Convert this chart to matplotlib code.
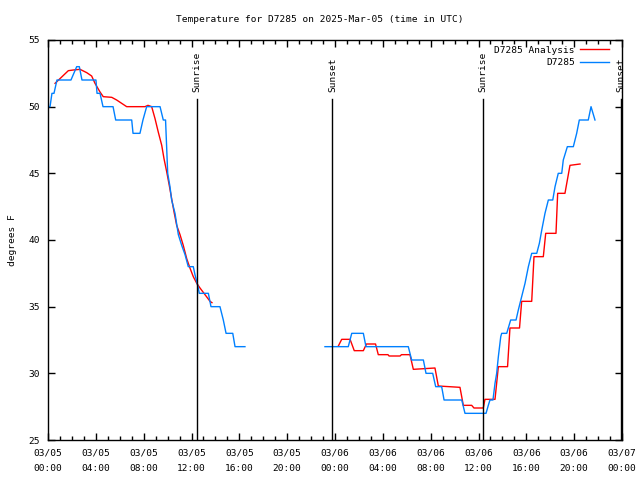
import numpy as np
import pandas as pd
import matplotlib
matplotlib.use("Agg")
import matplotlib.pyplot as plt
import matplotlib.dates as mdates

START = pd.Timestamp("2025-03-05 00:00")

# D7285 observations: hours since 03/05 00:00 UTC, temperature (F); NaN = gap
obs_hours = [0.00, 0.17, 0.33, 0.50, 0.75, 1.92, 2.40, 2.62, 2.84, 4.01, 4.10, 4.35, 4.60,
             5.44, 5.66, 7.00, 7.11, 7.69, 7.94, 8.25, 9.37, 9.64, 9.83, 10.01, 10.20, 10.34,
             10.62, 10.90, 11.18, 11.46, 11.73, 12.15, 12.29, 12.57, 12.65, 13.41, 13.63,
             14.38, 14.66, 14.89, 15.45, 15.64, 16.47, 20.00,
             23.16, 25.11, 25.40, 26.37, 26.59, 30.13, 30.41, 31.39, 31.61, 32.17, 32.42,
             32.92, 33.12, 34.60, 34.87, 36.63, 36.82, 36.96, 37.21, 37.38, 37.52, 37.66,
             37.86, 37.94, 38.36, 38.69, 39.14, 39.33, 39.61, 39.89, 40.17, 40.45, 40.87,
             41.09, 41.29, 41.56, 41.84, 42.21, 42.40, 42.67, 42.96, 43.09, 43.43, 43.93,
             44.21, 44.43, 45.18, 45.41, 45.74]
obs_temps = [50, 50, 51, 51, 52, 52, 53, 53, 52, 52, 51, 51, 50,
             50, 49, 49, 48, 48, 49, 50, 50, 49, 49, 45, 44, 43,
             42, 40.4, 39.6, 38.9, 38, 38, 37.4, 36.4, 36, 36, 35,
             35, 34, 33, 33, 32, 32, np.nan,
             32, 32, 33, 33, 32, 32, 31, 31, 30, 30, 29,
             29, 28, 28, 27, 27, 27.6, 28, 28, 29.25, 30, 31.25,
             32.75, 33, 33, 34, 34, 34.75, 35.75, 36.75, 38, 39, 39,
             39.75, 40.75, 42, 43, 43, 44, 45, 45, 46, 47, 47,
             48, 49, 49, 50, 49]

# D7285 Analysis
ana_hours = [0.59, 1.00, 1.70, 2.12, 2.68, 3.24, 3.65, 3.93, 4.35, 4.62, 5.33, 5.74, 6.16,
             6.58, 8.11, 8.36, 8.67, 8.95, 9.22, 9.51, 9.70, 9.93, 10.14, 10.34, 10.54,
             10.76, 11.04, 11.31, 11.60, 11.87, 12.15, 12.44, 12.71, 13.13, 13.55, 13.71, 20.0,
             24.28, 24.56, 25.26, 25.61, 26.37, 26.63, 27.39, 27.62, 28.43, 28.52, 29.44,
             29.56, 30.27, 30.55, 32.36, 32.64, 34.45, 34.73, 35.43, 35.62, 36.40, 36.54,
             37.38, 37.66, 38.43, 38.63, 39.43, 39.61, 40.45, 40.64, 41.42, 41.62, 42.48,
             42.62, 43.23, 43.43, 43.65, 44.49]
ana_temps = [51.75, 52.1, 52.7, 52.75, 52.8, 52.55, 52.3, 51.75, 51.1, 50.75, 50.7, 50.5, 50.25,
             50.0, 50.0, 50.1, 50.0, 49.1, 48.1, 47.1, 46.1, 45.1, 44.1, 43.1, 42.1,
             41.1, 40.4, 39.6, 38.6, 37.9, 37.25, 36.75, 36.4, 35.9, 35.4, 35.3, np.nan,
             32.05, 32.55, 32.55, 31.7, 31.7, 32.2, 32.2, 31.4, 31.4, 31.3, 31.3,
             31.4, 31.4, 30.3, 30.4, 29.05, 28.95, 27.6, 27.6, 27.4, 27.4, 28.05,
             28.05, 30.5, 30.5, 33.4, 33.4, 35.4, 35.4, 38.75, 38.75, 40.5, 40.5,
             43.5, 43.5, 44.5, 45.6, 45.7]

sun_events = ["2025-03-05 12:26", "2025-03-05 23:47", "2025-03-06 12:24", "2025-03-06 23:55"]
sun_labels = ["Sunrise", "Sunset", "Sunrise", "Sunset"]

FONT = "DejaVu Sans Mono"
FS = 6.8
RED = "#ff0000"
BLUE = "#0080ff"

obs_t = [START + pd.Timedelta(hours=h) for h in obs_hours]
ana_t = [START + pd.Timedelta(hours=h) for h in ana_hours]

fig = plt.figure(figsize=(6.4, 4.8), dpi=100)
ax = fig.add_axes([48/640, 40/480, 574/640, 400/480])

ax.plot(ana_t, ana_temps, color=RED, lw=1.0, label="D7285 Analysis")
ax.plot(obs_t, obs_temps, color=BLUE, lw=1.0, label="D7285")

ax.set_xlim(START, START + pd.Timedelta(hours=48))
ax.set_ylim(25, 55)

for ev, lab in zip(sun_events, sun_labels):
    t = pd.Timestamp(ev)
    ax.plot([t, t], [25, 50.6], color="black", lw=1.0)
    ax.text(t, 51.1, lab, rotation=90, ha="center", va="bottom",
            fontsize=FS, family=FONT)

ax.xaxis.set_major_locator(mdates.HourLocator(byhour=[0, 4, 8, 12, 16, 20]))
ax.xaxis.set_minor_locator(mdates.HourLocator())
ax.xaxis.set_major_formatter(mdates.DateFormatter("%m/%d\n%H:%M"))
ax.set_yticks(np.arange(25, 56, 5))

ax.tick_params(axis="both", which="both", direction="in", top=True, right=True,
               labelsize=FS, width=1.0)
ax.tick_params(which="major", length=5, pad=6)
ax.tick_params(which="minor", length=3)
for lab in ax.get_xticklabels():
    lab.set_family(FONT)
    lab.set_linespacing(1.9)
for lab in ax.get_yticklabels():
    lab.set_family(FONT)
for s in ax.spines.values():
    s.set_linewidth(1.0)

ax.set_ylabel("degrees F", fontsize=FS, family=FONT, labelpad=8)
fig.text(0.5, 1 - 19/480, "Temperature for D7285 on 2025-Mar-05 (time in UTC)",
         ha="center", va="center", fontsize=FS, family=FONT)

leg = ax.legend(loc="upper right", frameon=False, prop={"family": FONT, "size": FS},
                markerfirst=False, handlelength=3.1, handletextpad=0.55,
                borderpad=0.0, borderaxespad=0.5, labelspacing=0.4)
leg.set_bbox_to_anchor((1 - 8/574, 1 - 1/400), transform=ax.transAxes)
for t in leg.get_texts():
    t.set_ha("right")
leg._legend_box.align = "right"

fig.savefig("out.png", dpi=100)
